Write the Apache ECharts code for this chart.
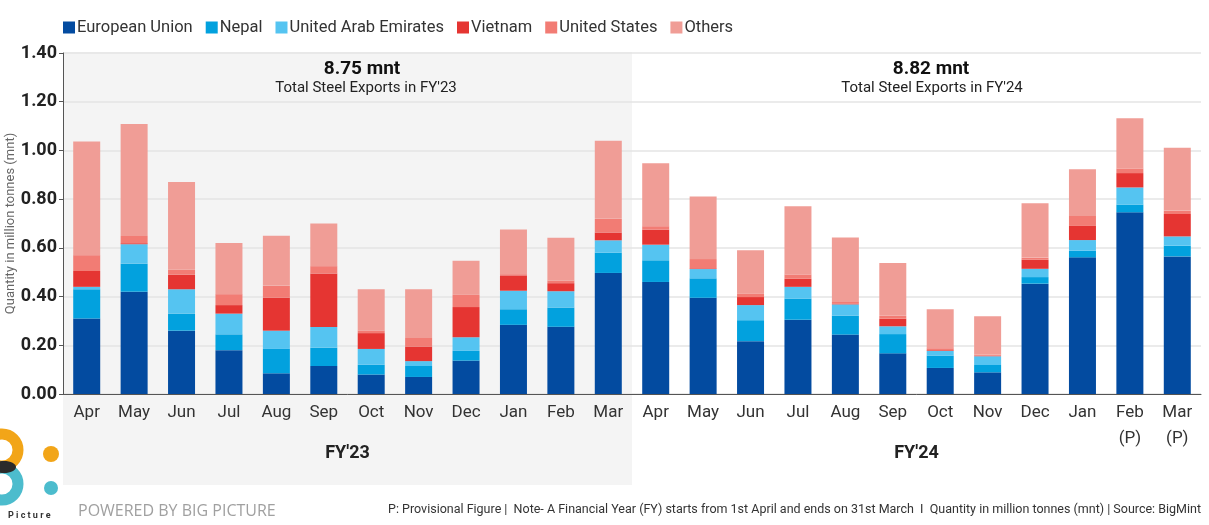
<!DOCTYPE html>
<html>
<head>
<meta charset="utf-8">
<script src="https://cdn.jsdelivr.net/npm/echarts@6/dist/echarts.min.js"></script>
<style>
  html, body { margin: 0; padding: 0; background: #fff; }
  #chart { width: 1209px; height: 525px; }
</style>
</head>
<body>
<div id="chart"></div>
<script>
// ---- data (million tonnes) ----
var months = ['Apr', 'May', 'Jun', 'Jul', 'Aug', 'Sep', 'Oct', 'Nov', 'Dec', 'Jan', 'Feb', 'Mar',
              'Apr ', 'May ', 'Jun ', 'Jul ', 'Aug ', 'Sep ', 'Oct ', 'Nov ', 'Dec ', 'Jan ', 'Feb\n(P)', 'Mar\n(P)'];
var fiscalYears = ["FY'23", "FY'24"];
var fyTotals = ['8.75 mnt', '8.82 mnt'];
var fySubtitles = ["Total Steel Exports in FY'23", "Total Steel Exports in FY'24"];

var euData      = [0.31, 0.42, 0.26, 0.18, 0.085, 0.115, 0.08, 0.07, 0.137, 0.284, 0.276, 0.497,
                   0.46, 0.395, 0.217, 0.305, 0.244, 0.167, 0.107, 0.089, 0.453, 0.561, 0.746, 0.565];
var nepalData   = [0.12, 0.115, 0.07, 0.065, 0.10, 0.075, 0.04, 0.045, 0.04, 0.064, 0.079, 0.083,
                   0.089, 0.08, 0.086, 0.087, 0.078, 0.079, 0.051, 0.03, 0.027, 0.027, 0.032, 0.044];
var uaeData     = [0.01, 0.08, 0.10, 0.085, 0.075, 0.085, 0.065, 0.02, 0.056, 0.076, 0.067, 0.051,
                   0.064, 0.038, 0.062, 0.048, 0.046, 0.032, 0.019, 0.036, 0.034, 0.044, 0.07, 0.038];
var vietnamData = [0.065, 0.004, 0.06, 0.035, 0.135, 0.22, 0.065, 0.06, 0.124, 0.063, 0.033, 0.032,
                   0.062, 0.003, 0.033, 0.033, 0.002, 0.031, 0.003, 0.002, 0.037, 0.058, 0.059, 0.092];
var usData      = [0.065, 0.03, 0.02, 0.045, 0.05, 0.03, 0.01, 0.035, 0.05, 0.005, 0.011, 0.056,
                   0.014, 0.038, 0.015, 0.017, 0.008, 0.012, 0.008, 0.005, 0.009, 0.041, 0.019, 0.014];
var othersData  = [0.467, 0.46, 0.36, 0.21, 0.205, 0.175, 0.17, 0.20, 0.14, 0.183, 0.175, 0.321,
                   0.258, 0.257, 0.177, 0.281, 0.265, 0.217, 0.16, 0.157, 0.223, 0.192, 0.206, 0.258];

var chart = echarts.init(document.getElementById('chart'));

function barSeries(name, data, color) {
    return {
        name: name,
        type: 'bar',
        stack: 'total',
        barWidth: 27,
        itemStyle: { color: color },
        emphasis: { disabled: true },
        data: data
    };
}

var option = {
    animation: false,
    textStyle: { fontFamily: 'Roboto' },
    legend: {
        left: 58,
        top: 14,
        itemWidth: 12,
        itemHeight: 12,
        itemGap: 13,
        icon: 'rect',
        textStyle: { fontSize: 16.5, color: '#333', padding: [0, 0, 0, -3] },
        data: ['European Union', 'Nepal', 'United Arab Emirates', 'Vietnam', 'United States', 'Others']
    },
    grid: { left: 63, right: 8, top: 53, bottom: 131, outerBoundsMode: 'none', containLabel: false },
    xAxis: [{
        type: 'category',
        data: months,
        axisLine: { lineStyle: { color: '#555', width: 1 } },
        axisTick: { show: false },
        axisLabel: {
            fontSize: 17,
            color: '#333',
            lineHeight: 26,
            margin: 6,
            verticalAlign: 'top',
            formatter: function (v) { return v.trim(); }
        }
    }, {
        type: 'category',
        data: fiscalYears,
        position: 'bottom',
        offset: 50,
        axisLine: { show: false },
        axisTick: { show: false },
        axisLabel: { fontSize: 18, fontWeight: 'bold', color: '#222', margin: 0 }
    }],
    yAxis: {
        type: 'value',
        min: 0,
        max: 1.4,
        interval: 0.2,
        name: 'Quantity in million tonnes (mnt)',
        nameLocation: 'middle',
        nameGap: 46,
        nameMoveOverlap: false,
        nameTextStyle: { fontSize: 13, color: '#666' },
        axisLine: { show: true, lineStyle: { color: '#555' } },
        axisTick: { show: true, length: 4, lineStyle: { color: '#555' } },
        splitLine: { lineStyle: { color: '#e4e4e4', width: 1.5 } },
        axisLabel: {
            fontSize: 18,
            fontWeight: 'bold',
            color: '#222',
            margin: 6,
            formatter: function (v) { return v.toFixed(2); }
        }
    },
    series: [
        barSeries('European Union', euData, '#034ba0'),
        barSeries('Nepal', nepalData, '#02a1de'),
        barSeries('United Arab Emirates', uaeData, '#55c4f1'),
        barSeries('Vietnam', vietnamData, '#e53532'),
        barSeries('United States', usData, '#f27c74'),
        barSeries('Others', othersData, '#f09d96')
    ],
    graphic: [
        // FY'23 shaded block
        { type: 'rect', z: -10, silent: true, shape: { x: 63, y: 52, width: 569, height: 433 }, style: { fill: '#f4f4f4' } },
        { type: 'text', z: 10, style: { text: fyTotals[0], x: 362, y: 69, align: 'center', verticalAlign: 'middle', font: 'bold 19px Roboto', fill: '#111' } },
        { type: 'text', z: 10, style: { text: fySubtitles[0], x: 366, y: 88, align: 'center', verticalAlign: 'middle', font: '15px Roboto', fill: '#222' } },
        { type: 'text', z: 10, style: { text: fyTotals[1], x: 931, y: 69, align: 'center', verticalAlign: 'middle', font: 'bold 19px Roboto', fill: '#111' } },
        { type: 'text', z: 10, style: { text: fySubtitles[1], x: 932, y: 88, align: 'center', verticalAlign: 'middle', font: '15px Roboto', fill: '#222' } },
        // logo
        { type: 'circle', shape: { cx: 2, cy: 450, r: 16 }, style: { fill: 'none', stroke: '#f2a518', lineWidth: 11 } },
        { type: 'circle', shape: { cx: 2, cy: 484, r: 16 }, style: { fill: 'none', stroke: '#4cbccd', lineWidth: 11 } },
        { type: 'ellipse', shape: { cx: 4, cy: 467, rx: 12, ry: 6 }, style: { fill: '#2b2b2b' } },
        { type: 'circle', shape: { cx: 51, cy: 454, r: 8 }, style: { fill: '#f2a518' } },
        { type: 'circle', shape: { cx: 51, cy: 488, r: 7 }, style: { fill: '#4cbccd' } },
        { type: 'text', style: { text: 'P i c t u r e', x: 8, y: 516, verticalAlign: 'middle', font: 'bold 9px Roboto', fill: '#333' } },
        // footer
        { type: 'text', style: { text: 'POWERED BY BIG PICTURE', x: 78, y: 511, verticalAlign: 'middle', font: '16px "Open Sans"', fill: '#a0a0a0' } },
        { type: 'text', style: {
            text: 'P: Provisional Figure |  Note- A Financial Year (FY) starts from 1st April and ends on 31st March  I  Quantity in million tonnes (mnt) | Source: BigMint',
            x: 1201, y: 510, align: 'right', verticalAlign: 'middle', font: '12.5px Roboto', fill: '#333' } }
    ]
};

chart.setOption(option);
</script>
</body>
</html>
